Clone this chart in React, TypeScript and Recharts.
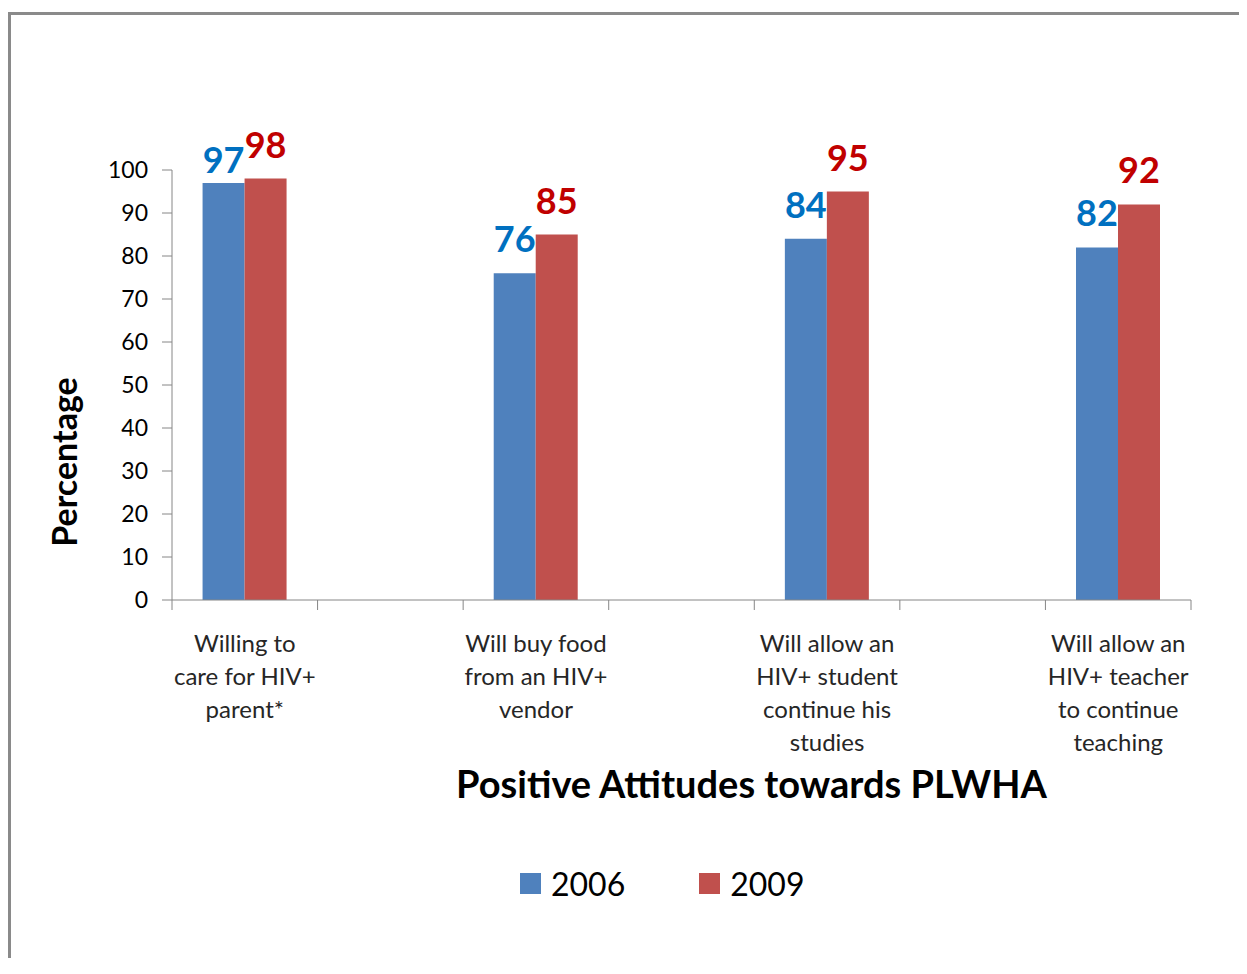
import { Bar, BarChart, LabelList, XAxis, YAxis, Label } from "recharts"

// Blank categories sit between the real ones so each pair of bars
// gets the same spacing as the original sheet (one empty column apart).
const categories = [
  "Willing to care for HIV+ parent*",
  "",
  "Will buy food from an HIV+ vendor",
  "",
  "Will allow an HIV+ student continue his studies",
  "",
  "Will allow an HIV+ teacher to continue teaching",
]

const categoryLines = [
  ["Willing to", "care for HIV+", "parent*"],
  [],
  ["Will buy food", "from an HIV+", "vendor"],
  [],
  ["Will allow an", "HIV+ student", "continue his", "studies"],
  [],
  ["Will allow an", "HIV+ teacher", "to continue", "teaching"],
]

const values2006 = [97, null, 76, null, 84, null, 82]
const values2009 = [98, null, 85, null, 95, null, 92]

const yTicks = [0, 10, 20, 30, 40, 50, 60, 70, 80, 90, 100]

const seriesNames = ["2006", "2009"]
const barColors = ["#4F81BD", "#C0504D"]
const labelColors = ["#0070C0", "#C00000"]

const data = categories.map((name, i) => ({
  name,
  y2006: values2006[i],
  y2009: values2009[i],
}))

const FONT = "Lato, 'Open Sans', sans-serif"
const AXIS = "#868686"

const W = 1239
const H = 950
const margin = { top: 162, right: 56, bottom: 148, left: 100 }
const Y_WIDTH = 64
const X_HEIGHT = 210
const band = (W - margin.left - Y_WIDTH - margin.right) / categories.length

function CategoryTick(props: any) {
  const { x, y, index } = props
  const lines = categoryLines[index] || []
  const left = x - band / 2
  const right = x + band / 2
  return (
    <g>
      <line x1={left} x2={left} y1={y - 10} y2={y} stroke={AXIS} />
      {index === categories.length - 1 && (
        <line x1={right} x2={right} y1={y - 10} y2={y} stroke={AXIS} />
      )}
      <text
        x={x}
        y={y + 42}
        textAnchor="middle"
        fill="#262626"
        fontSize={24}
        fontFamily={FONT}
      >
        {lines.map((l, i) => (
          <tspan key={i} x={x} dy={i === 0 ? 0 : 33}>
            {l}
          </tspan>
        ))}
      </text>
    </g>
  )
}

function makeValueLabel(color: string, nudgeFirst: boolean) {
  return (props: any) => {
    const { value, index } = props
    if (value == null) return null
    const x = props.x ?? props.viewBox?.x
    const y = props.y ?? props.viewBox?.y
    const width = props.width ?? props.viewBox?.width
    // first 2006 label tucks in lower so it doesn't crowd the 98
    const offset = nudgeFirst && index === 0 ? 10 : 21
    return (
      <text
        x={x + width / 2}
        y={y - offset}
        textAnchor="middle"
        fill={color}
        fontSize={36}
        fontWeight="bold"
        fontFamily={FONT}
      >
        {value}
      </text>
    )
  }
}

function XTitle(props: any) {
  const vb = props.viewBox
  return (
    <text
      x={vb.x + vb.width / 2 + 70}
      y={vb.y + vb.height - 12}
      textAnchor="middle"
      fontSize={38}
      fontWeight="bold"
      fontFamily={FONT}
      fill="#000"
    >
      Positive Attitudes towards PLWHA
    </text>
  )
}

function YTitle(props: any) {
  const vb = props.viewBox
  const cx = vb.x - 31
  const cy = vb.y + vb.height / 2 + 77
  return (
    <text
      x={cx}
      y={cy}
      transform={`rotate(-90, ${cx}, ${cy})`}
      textAnchor="middle"
      fontSize={34}
      fontWeight="bold"
      fontFamily={FONT}
      fill="#000"
    >
      Percentage
    </text>
  )
}

export default function App() {
  return (
    <div style={{ position: "relative", width: W, height: H }}>
      <div
        style={{
          position: "absolute",
          left: 0,
          top: 4,
          width: W,
          height: H - 4,
          borderTop: "3px solid #8a8a8a",
          borderLeft: "3px solid #8a8a8a",
          boxSizing: "border-box",
        }}
      />
      <BarChart
        width={W}
        height={H}
        data={data}
        margin={margin}
        barGap={0}
        barCategoryGap="21%"
        style={{ position: "absolute", left: 0, top: 0 }}
      >
        <XAxis
          dataKey="name"
          interval={0}
          height={X_HEIGHT}
          tickLine={false}
          tickSize={10}
          tickMargin={0}
          axisLine={{ stroke: AXIS }}
          tick={<CategoryTick />}
        >
          <Label content={<XTitle />} />
        </XAxis>
        <YAxis
          width={Y_WIDTH}
          domain={[0, 100]}
          ticks={yTicks}
          interval={0}
          tickSize={10}
          tickMargin={14}
          axisLine={{ stroke: AXIS }}
          tickLine={{ stroke: AXIS }}
          tick={{ fill: "#000", fontSize: 23, fontFamily: FONT }}
        >
          <Label content={<YTitle />} />
        </YAxis>
        <Bar dataKey="y2006" fill={barColors[0]} isAnimationActive={false}>
          <LabelList dataKey="y2006" content={makeValueLabel(labelColors[0], true)} />
        </Bar>
        <Bar dataKey="y2009" fill={barColors[1]} isAnimationActive={false}>
          <LabelList dataKey="y2009" content={makeValueLabel(labelColors[1], false)} />
        </Bar>
      </BarChart>
      <div
        style={{
          position: "absolute",
          left: 512,
          top: 856,
          display: "flex",
          alignItems: "center",
          fontFamily: FONT,
          fontSize: 32,
          color: "#000",
        }}
      >
        {seriesNames.map((name, i) => (
          <div
            key={name}
            style={{ display: "flex", alignItems: "center", marginRight: i === 0 ? 74 : 0 }}
          >
            <span
              style={{ width: 21, height: 21, background: barColors[i], marginRight: 10 }}
            />
            <span>{name}</span>
          </div>
        ))}
      </div>
    </div>
  )
}
